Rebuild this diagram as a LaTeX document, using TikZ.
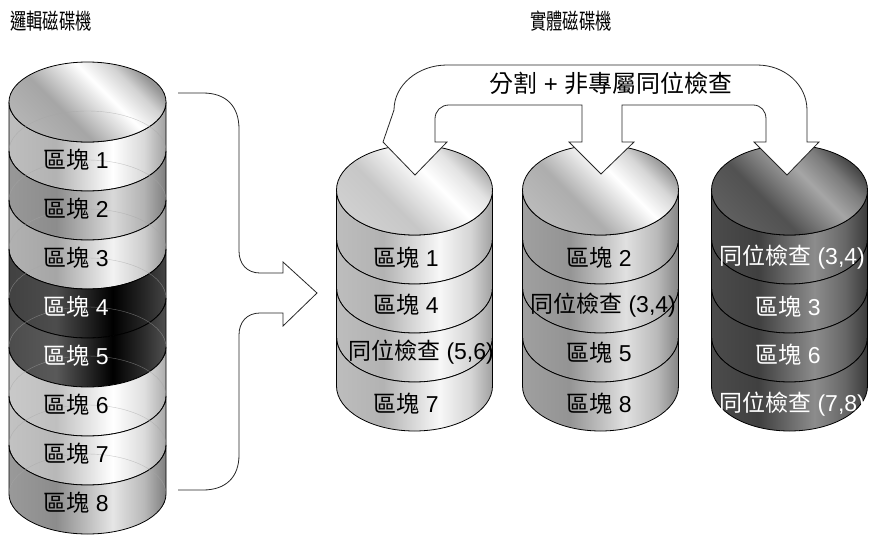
\documentclass[tikz,border=0pt]{standalone}
\usepackage{fontspec}
\setmainfont{Liberation Sans}
\newfontfamily\cjk{Noto Sans CJK TC}
\newfontfamily\cjktitle[FakeStretch=0.74]{Noto Sans CJK TC}
\newcommand\zh[1]{{\cjk #1}}

\colorlet{bandlo}{gray}
\colorlet{bandhi}{white}
\pgfdeclarehorizontalshading[bandlo,bandhi]{metal}{100bp}{color(0bp)=(bandlo); color(25bp)=(bandlo!85!bandhi); color(40bp)=(bandlo); color(58bp)=(bandhi); color(68bp)=(bandlo!50!bandhi); color(75bp)=(bandlo!90!black); color(100bp)=(bandlo!90!black)}

\begin{document}
\begin{tikzpicture}[x=1pt, y=-1pt,
  band/.style={shading=metal, draw=black, line width=0.8pt},
  backline/.style={draw=black!35, line width=0.4pt, opacity=0.6},
  outline/.style={draw=black!85, line width=0.8pt},
  lbl/.style={font=\fontsize{23}{26}\selectfont, inner sep=0pt},
  banner/.style={font=\fontsize{24}{28}\selectfont, inner sep=0pt},
  title/.style={font=\cjktitle\fontsize{22}{26}\selectfont, inner sep=0pt}]

\useasboundingbox (0,0) rectangle (871,536);

% Titles
\node[title] (logical) at (51,21) {邏輯磁碟機};
\node[title] (physical) at (571,21) {實體磁碟機};

% Logical drive
\foreach \k/\lo/\hi in {1/black!30/white, 2/black!45/black!15, 3/black!35/black!5,
    4/black!70/black, 5/black!65/black, 6/black!25/white, 7/black!28/white,
    8/black!45/black!10} {
  \colorlet{bandlo}{\lo}\colorlet{bandhi}{\hi}
  \pgfmathsetmacro\yb{142+49*\k}
  \shadedraw[band] (9,\yb-40) arc[start angle=180, end angle=0, x radius=78.5, y radius=40]
    -- (166,\yb-89) arc[start angle=0, end angle=180, x radius=78.5, y radius=40] -- cycle;
}
\colorlet{bandlo}{black!35}\colorlet{bandhi}{white}
\shadedraw[band, shading angle=45] (87.5,102) ellipse[x radius=78.5, y radius=40];
\foreach \k in {1,...,8}
  \draw[backline] (9,102+49*\k) arc[start angle=180, end angle=360, x radius=78.5, y radius=40];

\foreach \k/\c in {1/black,2/black,3/black,4/white,5/white,6/black,7/black,8/black}
  \node[lbl, text=\c] (lb\k) at (76,111+49*\k) {\zh{區塊} \k};

% Arrow into the physical drives
\draw[outline] (178,93) -- (203,93) .. controls (226,93) and (239,106) .. (239,129)
  -- (239,251) .. controls (239,264) and (247,273) .. (260,273) -- (283,273) -- (283,262)
  -- (317,293) -- (283,326) -- (283,313) -- (260,313) .. controls (247,313) and (239,322) .. (239,335)
  -- (239,455) .. controls (239,477) and (226,490) .. (203,490) -- (178,490);

% Physical drives
\foreach \cx/\tlo/\thi/\lo/\hi in {414.5/black!22/white/black!30/black!3,
    600.5/black!32/white/black!42/black!12,
    789.5/black!68/black!35/black!75/black!45} {
  \colorlet{bandlo}{\lo}\colorlet{bandhi}{\hi}
  \foreach \k in {1,...,4} {
    \pgfmathsetmacro\yb{235+49*\k}
    \shadedraw[band] (\cx-78,\yb-45) arc[start angle=180, end angle=0, x radius=78, y radius=45]
      -- (\cx+78,\yb-94) arc[start angle=0, end angle=180, x radius=78, y radius=45] -- cycle;
  }
  \colorlet{bandlo}{\tlo}\colorlet{bandhi}{\thi}
  \shadedraw[band, shading angle=45] (\cx,190) ellipse[x radius=78, y radius=45];
}

% Disk 1
\node[lbl] (da1) at (406,258) {\zh{區塊} 1};
\node[lbl] (da2) at (406,305) {\zh{區塊} 4};
\node[lbl] (da3) at (421,352) {\zh{同位檢查} (5,6)};
\node[lbl] (da4) at (406,404) {\zh{區塊} 7};

% Disk 2
\node[lbl] (db1) at (599,258) {\zh{區塊} 2};
\node[lbl] (db2) at (603,305) {\zh{同位檢查} (3,4)};
\node[lbl] (db3) at (599,353) {\zh{區塊} 5};
\node[lbl] (db4) at (599,404) {\zh{區塊} 8};

% Disk 3
\node[lbl, text=white] (dc1) at (792,257) {\zh{同位檢查} (3,4)};
\node[lbl, text=white] (dc2) at (788,307) {\zh{區塊} 3};
\node[lbl, text=white] (dc3) at (788,355) {\zh{區塊} 6};
\node[lbl, text=white] (dc4) at (792,404) {\zh{同位檢查} (7,8)};

% Striping arrows
\draw[outline, fill=white] (383,142) -- (415,175) -- (447,142) -- (435,142) -- (435,119)
  .. controls (435,111) and (441,105) .. (449,105) -- (582,105) -- (582,142) -- (569,142)
  -- (601,174) -- (634,142) -- (622,142) -- (622,105) -- (753,105)
  .. controls (761,105) and (766,111) .. (766,119) -- (766,142) -- (754,142)
  -- (787,175) -- (819,142) -- (807,142) -- (807,110)
  .. controls (807,85) and (785,65) .. (757,65) -- (447,65)
  .. controls (418,65) and (394,85) .. (394,110) -- cycle;
\node[banner] (split) at (611,83) {\zh{分割} + \zh{非專屬同位檢查}};

\end{tikzpicture}
\end{document}
